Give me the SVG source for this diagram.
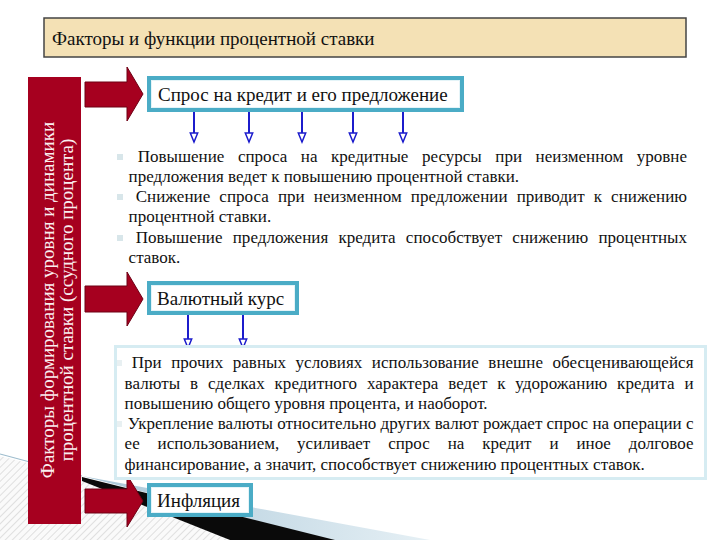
<svg xmlns="http://www.w3.org/2000/svg" width="720" height="540" viewBox="0 0 720 540">
<defs>
<style>
.t{font-family:"Liberation Serif",serif;fill:#111}
.lbl{font-size:19px}
.p{font-size:17px}
.vt{font-family:"Liberation Serif",serif;font-size:19px;fill:#fbeef0}
.blk{fill:#a6001f;stroke:#6e0015;stroke-width:1}
.tb{fill:#fff;stroke:#4bacc6;stroke-width:4}
.tbi{fill:none;stroke:#e4f4f8;stroke-width:1}
.bl{stroke:#1c1ccc;stroke-width:2;fill:none}
.bul{fill:#d8e6ea}
</style>
<pattern id="hatch" width="5" height="5" patternUnits="userSpaceOnUse" patternTransform="rotate(45)">
<rect width="5" height="5" fill="#fafafa"/>
<line x1="0" y1="0" x2="0" y2="5" stroke="#d4d4d4" stroke-width="1.4"/>
</pattern>
<linearGradient id="bluew" x1="0" y1="0" x2="1" y2="0">
<stop offset="0" stop-color="#a9c7d8"/>
<stop offset="1" stop-color="#e6f0f5"/>
</linearGradient>
<marker id="ah" markerUnits="userSpaceOnUse" markerWidth="12" markerHeight="10" refX="10" refY="4.5" orient="auto">
<path d="M1,0.8 L10,4.5 L1,8.2 z" fill="#fff" stroke="#1c1ccc" stroke-width="1.5"/>
</marker>
</defs>
<rect width="720" height="540" fill="#fff"/>
<g id="decor">
<polygon points="0,456 82,477 300,540 0,540" fill="url(#hatch)"/>
<line x1="0" y1="454" x2="82" y2="476" stroke="#9dbccd" stroke-width="1.2"/>
<polygon points="82,476 430,540 330,540" fill="url(#bluew)"/>
<polygon points="82,477 335,540 230,540 82,481" fill="#0a0a0a"/>
</g>
<g id="title">
<rect x="44" y="18" width="642" height="39" fill="#f4e1b5" stroke="#444" stroke-width="1.5"/>
<text class="t lbl" x="52" y="45">Факторы и функции процентной ставки</text>
</g>
<g id="factors">
<rect x="28" y="77" width="53" height="447" fill="#a6001f"/>
<text class="vt" transform="translate(54,300) rotate(-90)" text-anchor="middle">Факторы формирования уровня и динамики</text>
<text class="vt" transform="translate(73,300) rotate(-90)" text-anchor="middle">процентной ставки (ссудного процента)</text>
</g>
<g id="connectors">
<polygon class="blk" points="85,82 127,82 127,67 143,94 127,121 127,107 85,107"/>
<polygon class="blk" points="85,286 127,286 127,272 143,299 127,326 127,312 85,312"/>
<polygon class="blk" points="85,489 127,489 127,475 143,501 127,527 127,513 85,513"/>
<line class="bl" x1="194" y1="112" x2="194" y2="142" marker-end="url(#ah)"/>
<line class="bl" x1="249" y1="112" x2="249" y2="142" marker-end="url(#ah)"/>
<line class="bl" x1="302" y1="112" x2="302" y2="142" marker-end="url(#ah)"/>
<line class="bl" x1="353" y1="112" x2="353" y2="142" marker-end="url(#ah)"/>
<line class="bl" x1="403" y1="112" x2="403" y2="142" marker-end="url(#ah)"/>
<line class="bl" x1="188" y1="315" x2="188" y2="348" marker-end="url(#ah)"/>
<line class="bl" x1="243" y1="315" x2="243" y2="348" marker-end="url(#ah)"/>
</g>
<g id="node-demand">
<rect class="tb" x="149" y="78" width="313" height="32"/>
<rect class="tbi" x="151.5" y="80.5" width="308" height="27"/>
<text class="t lbl" x="158" y="101">Спрос на кредит и его предложение</text>
</g>
<g id="text-demand">
<rect class="bul" x="117" y="154" width="6" height="6"/>
<rect class="bul" x="117" y="194" width="6" height="6"/>
<rect class="bul" x="117" y="235" width="6" height="6"/>
<text class="t p" x="137.7" y="162" word-spacing="9.3" textLength="549.3" lengthAdjust="spacing">Повышение спроса на кредитные ресурсы при неизменном уровне</text>
<text class="t p" x="128.6" y="182">предложения ведет к повышению процентной ставки.</text>
<text class="t p" x="135.7" y="202" word-spacing="4.8" textLength="551.3" lengthAdjust="spacing">Снижение спроса при неизменном предложении приводит к снижению</text>
<text class="t p" x="128.6" y="222">процентной ставки.</text>
<text class="t p" x="135.7" y="243" word-spacing="5.9" textLength="551.3" lengthAdjust="spacing">Повышение предложения кредита способствует снижению процентных</text>
<text class="t p" x="128.6" y="263">ставок.</text>
</g>
<g id="node-rate">
<rect class="tb" x="149" y="283" width="148" height="30"/>
<rect class="tbi" x="151.5" y="285.5" width="143" height="25"/>
<text class="t lbl" x="157" y="305">Валютный курс</text>
</g>
<g id="text-rate">
<rect x="115.5" y="346.5" width="590" height="132" fill="#fff" stroke="#d6ecf2" stroke-width="3"/>
<rect class="bul" x="117" y="360" width="5" height="6" opacity="0.6"/>
<rect class="bul" x="117" y="421" width="5" height="6" opacity="0.6"/>
<text class="t p" x="131.7" y="368" word-spacing="5.2" textLength="561.8" lengthAdjust="spacing">При прочих равных условиях использование внешне обесценивающейся</text>
<text class="t p" x="124.6" y="389" word-spacing="5.5" textLength="568.9" lengthAdjust="spacing">валюты в сделках кредитного характера ведет к удорожанию кредита и</text>
<text class="t p" x="124.6" y="409">повышению общего уровня процента, и наоборот.</text>
<text class="t p" x="127.8" y="429" textLength="565.7" lengthAdjust="spacing">Укрепление валюты относительно других валют рождает спрос на операции с</text>
<text class="t p" x="124.6" y="449" word-spacing="13.6" textLength="568.9" lengthAdjust="spacing">ее использованием, усиливает спрос на кредит и иное долговое</text>
<text class="t p" x="124.6" y="470">финансирование, а значит, способствует снижению процентных ставок.</text>
</g>
<g id="node-inflation">
<rect class="tb" x="149" y="485" width="102" height="30"/>
<rect class="tbi" x="151.5" y="487.5" width="97" height="25"/>
<text class="t lbl" x="157" y="507">Инфляция</text>
</g>
</svg>
